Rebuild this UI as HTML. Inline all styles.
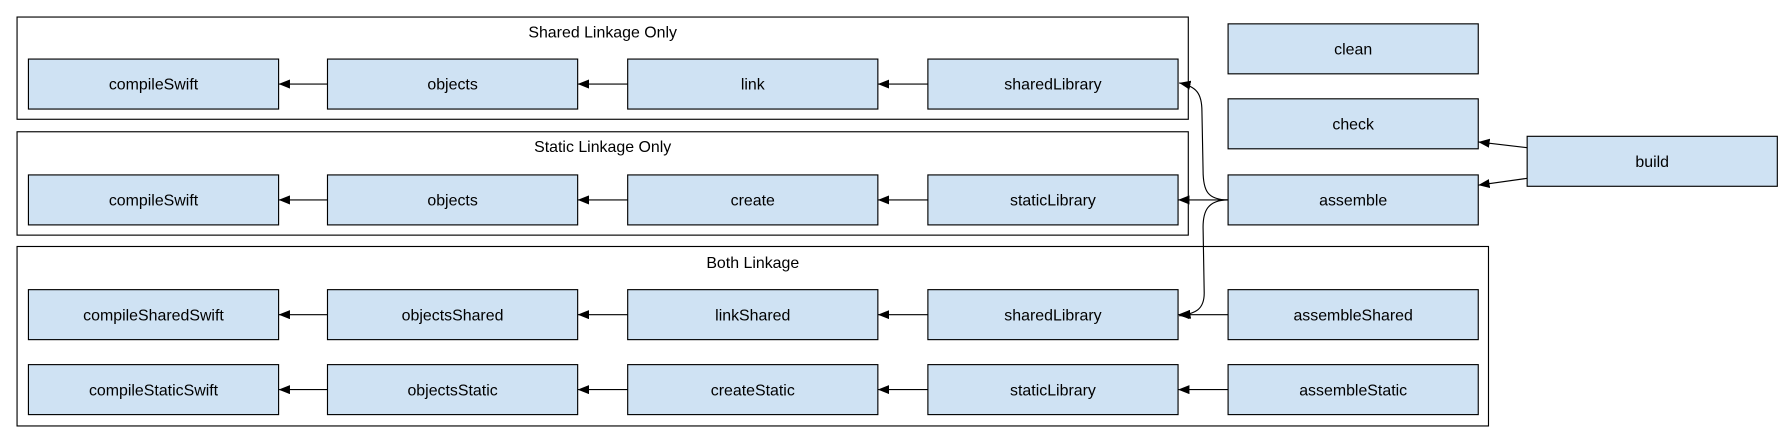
<!DOCTYPE html>
<html><head><style>html,body{margin:0;padding:0;background:#fff}svg{display:block}</style></head>
<body>
<svg width="1783" height="443" viewBox="0 0 1568 390" preserveAspectRatio="none" xmlns="http://www.w3.org/2000/svg" font-family="Liberation Sans, Arial, sans-serif" font-size="14">
<defs><marker id="a" markerWidth="10" markerHeight="8" refX="10" refY="4" orient="auto" markerUnits="userSpaceOnUse"><path d="M0,0L10,4L0,8z" fill="#000"/></marker></defs>
<g fill="none" stroke="#000" stroke-width="1">
<rect x="15" y="15" width="1030" height="90"/>
<rect x="15" y="116" width="1030" height="91"/>
<rect x="15" y="217" width="1294" height="158"/>
</g>
<g text-anchor="middle" fill="#000">
<text x="530" y="33">Shared Linkage Only</text>
<text x="530" y="134">Static Linkage Only</text>
<text x="662" y="236">Both Linkage</text>
</g>
<g fill="#cfe2f3" stroke="#000" stroke-width="1">
<rect x="25" y="52" width="220" height="44"/><rect x="288" y="52" width="220" height="44"/><rect x="552" y="52" width="220" height="44"/><rect x="816" y="52" width="220" height="44"/>
<rect x="25" y="154" width="220" height="44"/><rect x="288" y="154" width="220" height="44"/><rect x="552" y="154" width="220" height="44"/><rect x="816" y="154" width="220" height="44"/>
<rect x="25" y="255" width="220" height="44"/><rect x="288" y="255" width="220" height="44"/><rect x="552" y="255" width="220" height="44"/><rect x="816" y="255" width="220" height="44"/><rect x="1080" y="255" width="220" height="44"/>
<rect x="25" y="321" width="220" height="44"/><rect x="288" y="321" width="220" height="44"/><rect x="552" y="321" width="220" height="44"/><rect x="816" y="321" width="220" height="44"/><rect x="1080" y="321" width="220" height="44"/>
<rect x="1080" y="21" width="220" height="44"/><rect x="1080" y="87" width="220" height="44"/><rect x="1080" y="154" width="220" height="44"/>
<rect x="1343" y="120" width="220" height="44"/>
</g>
<g text-anchor="middle" fill="#000">
<text x="135" y="79">compileSwift</text><text x="398" y="79">objects</text><text x="662" y="79">link</text><text x="926" y="79">sharedLibrary</text>
<text x="135" y="181">compileSwift</text><text x="398" y="181">objects</text><text x="662" y="181">create</text><text x="926" y="181">staticLibrary</text>
<text x="135" y="282">compileSharedSwift</text><text x="398" y="282">objectsShared</text><text x="662" y="282">linkShared</text><text x="926" y="282">sharedLibrary</text><text x="1190" y="282">assembleShared</text>
<text x="135" y="348">compileStaticSwift</text><text x="398" y="348">objectsStatic</text><text x="662" y="348">createStatic</text><text x="926" y="348">staticLibrary</text><text x="1190" y="348">assembleStatic</text>
<text x="1190" y="48">clean</text><text x="1190" y="114">check</text><text x="1190" y="181">assemble</text>
<text x="1453" y="147">build</text>
</g>
<g fill="none" stroke="#000" stroke-width="1" marker-end="url(#a)">
<path d="M288,74H245"/><path d="M552,74H508"/><path d="M816,74H772"/>
<path d="M288,176H245"/><path d="M552,176H508"/><path d="M816,176H772"/>
<path d="M288,277H245"/><path d="M552,277H508"/><path d="M816,277H772"/><path d="M1080,277H1036"/>
<path d="M288,343H245"/><path d="M552,343H508"/><path d="M816,343H772"/><path d="M1080,343H1036"/>
<path d="M1080,176H1036"/>
<path d="M1080,176C1062,176 1058,168 1058,150L1057,98C1057,82 1052,76 1037,73"/>
<path d="M1080,176C1062,176 1058,186 1058,200L1059,258C1059,272 1052,276 1037,278"/>
<path d="M1343,130L1300,125"/>
<path d="M1343,157L1300,163"/>
</g>
</svg>
</body></html>
